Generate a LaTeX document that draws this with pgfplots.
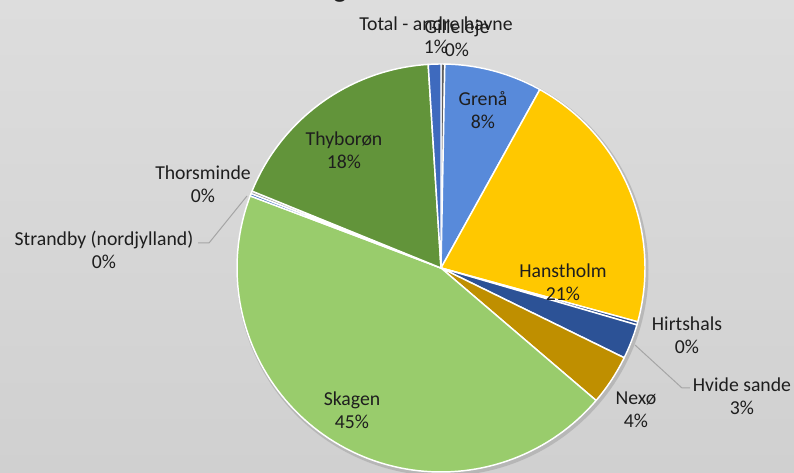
\documentclass[border=0pt]{standalone}
\usepackage{pgfplots}
\pgfplotsset{compat=1.18}
\usepackage{pgfplotstable}
\usepackage{fontspec}
\setmainfont{Carlito}
\definecolor{bgtop}{RGB}{221,221,221}
\definecolor{bgbot}{RGB}{208,208,208}
\definecolor{cGil}{RGB}{95,95,95}
\definecolor{cGre}{RGB}{88,138,218}
\definecolor{cHan}{RGB}{255,200,0}
\definecolor{cHir}{RGB}{40,74,140}
\definecolor{cHvi}{RGB}{44,82,150}
\definecolor{cNex}{RGB}{191,143,0}
\definecolor{cSka}{RGB}{153,204,108}
\definecolor{cStr}{RGB}{68,114,196}
\definecolor{cTho}{RGB}{150,150,150}
\definecolor{cThy}{RGB}{98,148,58}
\definecolor{cTot}{RGB}{62,106,190}
\definecolor{lead}{RGB}{165,165,165}
\definecolor{txt}{RGB}{30,30,30}
\tikzset{lab/.style={align=center, text=txt, font=\fontsize{14.8}{17.5}\selectfont, inner sep=0pt}}
\pgfplotstableread[col sep=comma]{
port,share,col
Gilleleje,0.3,cGil
Grenå,7.75,cGre
Hanstholm,21.2,cHan
Hirtshals,0.25,cHir
Hvide sande,2.75,cHvi
Nexø,4.0,cNex
Skagen,44.5,cSka
Strandby (nordjylland),0.2,cStr
Thorsminde,0.2,cTho
Thyborøn,17.85,cThy
Total - andre havne,1.0,cTot
}\piedata
\begin{document}
\begin{tikzpicture}
\clip (0,0) rectangle (595.5pt,354.75pt);
\begin{axis}[scale only axis, width=595.5pt, height=354.75pt,
  xmin=0, xmax=794, ymin=0, ymax=473, y dir=reverse,
  hide axis, clip=false, anchor=south west, at={(0,0)}]
\fill[top color=bgtop, bottom color=bgbot] (axis cs:0,0) rectangle (axis cs:794,473);
\fill[black!35, opacity=0.6] (axis cs:442.5,270) circle[radius=154.5pt];
\pgfplotstablegetrowsof{\piedata}
\pgfmathtruncatemacro{\lastrow}{\pgfplotsretval-1}
\gdef\cum{0}
\pgfplotsforeachungrouped \i in {0,...,\lastrow}{%
  \pgfplotstablegetelem{\i}{share}\of\piedata \let\sv\pgfplotsretval
  \pgfplotstablegetelem{\i}{col}\of\piedata \let\scol\pgfplotsretval
  \pgfmathsetmacro{\ta}{90-3.6*(\cum+\sv)}
  \pgfmathsetmacro{\tb}{90-3.6*\cum}
  \pgfmathsetmacro{\newcum}{\cum+\sv}
  \xdef\cum{\newcum}
  \edef\doslice{\noexpand\addplot[draw=white, line width=1.1pt, fill=\scol, line join=round, domain=\ta:\tb, samples=90] ({441+204*cos(x)},{268-204*sin(x)}) -- (axis cs:441,268) -- cycle;}
  \doslice
}
\draw[lead, line width=0.75pt] (axis cs:635,345) -- (axis cs:682,388) -- (axis cs:690,388);
\draw[lead, line width=0.75pt] (axis cs:247,196) -- (axis cs:209,243) -- (axis cs:198,243);
\node[lab] at (axis cs:483,110) {Grenå\\8\%};
\node[lab] at (axis cs:563,282) {Hanstholm\\21\%};
\node[lab] at (axis cs:344,150) {Thyborøn\\18\%};
\node[lab] at (axis cs:352,410) {Skagen\\45\%};
\node[lab] at (axis cs:636,410) {Nexø\\4\%};
\node[lab] at (axis cs:687,335) {Hirtshals\\0\%};
\node[lab] at (axis cs:742,396) {Hvide sande\\3\%};
\node[lab] at (axis cs:203,184) {Thorsminde\\0\%};
\node[lab] at (axis cs:104,250) {Strandby (nordjylland)\\0\%};
\node[lab] at (axis cs:436,35) {Total - andre havne\\1\%};
\node[lab] at (axis cs:457,38) {Gilleleje\\0\%};
\node[anchor=base, text=txt, font=\fontsize{21}{25}\selectfont] at (axis cs:340,-2) {g};
\end{axis}
\end{tikzpicture}
\end{document}
